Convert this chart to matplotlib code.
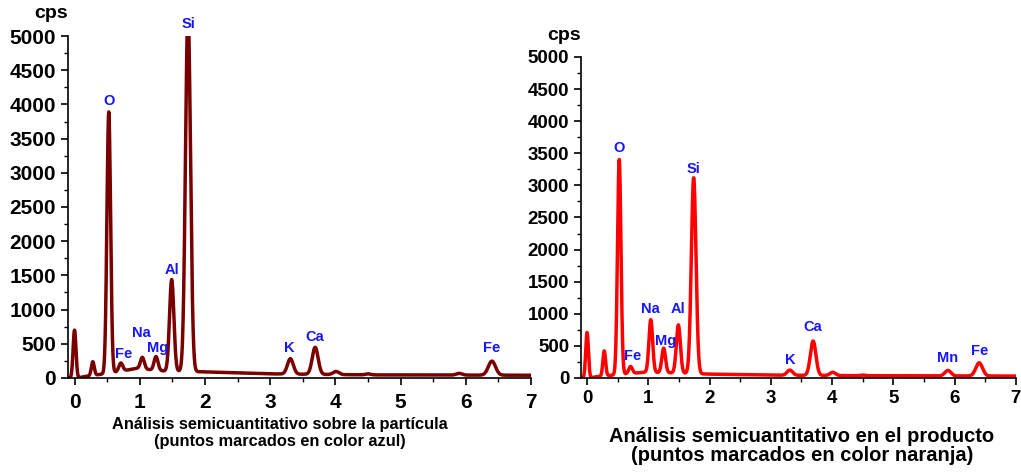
import numpy as np
import matplotlib
matplotlib.use("Agg")
import matplotlib.pyplot as plt
from matplotlib.ticker import MultipleLocator

plt.rcParams["font.family"] = ["Liberation Sans", "DejaVu Sans"]
plt.rcParams["font.weight"] = "bold"

# EDS peaks: energy (keV), height (cps), width (sigma, keV)
left_energy = [0.00, 0.28, 0.525, 0.71, 1.04, 1.25, 1.49, 1.74, 3.31, 3.69, 4.01, 4.50, 5.90, 6.40]
left_height = [700, 200, 3820, 120, 170, 200, 1340, 5300, 225, 395, 45, 15, 25, 205]
left_sigma = [0.022, 0.022, 0.028, 0.030, 0.030, 0.030, 0.033, 0.038, 0.045, 0.045, 0.045, 0.04, 0.045, 0.055]

right_energy = [0.00, 0.28, 0.525, 0.71, 1.04, 1.25, 1.49, 1.74, 3.31, 3.69, 4.01, 4.50, 5.89, 6.40]
right_height = [710, 390, 3350, 110, 820, 380, 750, 3050, 80, 535, 50, 10, 85, 205]
right_sigma = [0.022, 0.022, 0.028, 0.030, 0.030, 0.030, 0.033, 0.038, 0.045, 0.045, 0.045, 0.04, 0.05, 0.055]

# continuum background read at a few energies
bg_energy = [-0.1, 0.05, 0.15, 0.6, 0.95, 1.4, 2.0, 3.0, 4.5, 7.0]
left_bg = [0, 0, 20, 80, 140, 100, 90, 60, 45, 40]
right_bg = [0, 0, 20, 60, 90, 80, 60, 45, 35, 30]

# element labels: text, energy, cps
left_labels = [("O", 0.53, 3950), ("Si", 1.74, 5080), ("Al", 1.49, 1480), ("Na", 1.02, 560),
               ("Mg", 1.27, 340), ("Fe", 0.75, 250), ("K", 3.30, 330), ("Ca", 3.69, 490), ("Fe", 6.40, 330)]
right_labels = [("O", 0.53, 3470), ("Si", 1.74, 3150), ("Na", 1.04, 960), ("Al", 1.49, 960),
                ("Mg", 1.28, 470), ("Fe", 0.75, 240), ("K", 3.32, 170), ("Ca", 3.69, 680),
                ("Mn", 5.89, 200), ("Fe", 6.40, 310)]


def spectrum(energy, height, sigma, bg):
    x = np.linspace(-0.1, 7.0, 3000)
    y = np.interp(x, bg_energy, bg)
    for e, h, s in zip(energy, height, sigma):
        y = y + h * np.exp(-0.5 * ((x - e) / s) ** 2)
    return x, y


def style_axis(ax, fs, pad):
    ax.set_xlim(-0.1, 7.0)
    ax.set_ylim(0, 5000)
    ax.spines["top"].set_visible(False)
    ax.spines["right"].set_visible(False)
    ax.spines["left"].set_linewidth(1.2)
    ax.spines["bottom"].set_linewidth(1.2)
    ax.xaxis.set_major_locator(MultipleLocator(1))
    ax.xaxis.set_minor_locator(MultipleLocator(0.5))
    ax.yaxis.set_major_locator(MultipleLocator(500))
    ax.yaxis.set_minor_locator(MultipleLocator(250))
    ax.tick_params(which="major", direction="out", length=5, width=1.2, labelsize=fs)
    ax.tick_params(axis="x", pad=pad)
    ax.tick_params(which="minor", direction="out", length=3, width=1.0)
    for lab in ax.get_xticklabels() + ax.get_yticklabels():
        lab.set_fontweight("bold")
    ax.text(0.0, 1.04, "cps", transform=ax.transAxes, ha="right", va="bottom",
            fontsize=14, fontweight="bold")


fig = plt.figure(figsize=(10.21, 4.72), dpi=100)

# 1. Left panel: particle
ax1 = fig.add_axes([0.0666, 0.1992, 0.4535, 0.7245])
x, y = spectrum(left_energy, left_height, left_sigma, left_bg)
ax1.plot(x, y, color="#7a0000", lw=2.5)
style_axis(ax1, 15, 6)
for t, e, c in left_labels:
    ax1.text(e, c, t, color="#1515ff", fontsize=10.5, fontweight="bold", ha="center", va="bottom")

# 2. Right panel: product
ax2 = fig.add_axes([0.569, 0.1992, 0.426, 0.6801])
x, y = spectrum(right_energy, right_height, right_sigma, right_bg)
ax2.plot(x, y, color="#ff0000", lw=2.5)
style_axis(ax2, 13.5, 4)
for t, e, c in right_labels:
    ax2.text(e, c, t, color="#1515ff", fontsize=10.5, fontweight="bold", ha="center", va="bottom")

# captions under each panel
fig.text(280 / 1021, 1 - 433 / 472,
         "Análisis semicuantitativo sobre la partícula\n(puntos marcados en color azul)",
         ha="center", va="center", fontsize=11.8, fontweight="bold", linespacing=1.2)
fig.text(802 / 1021, 1 - 446 / 472,
         "Análisis semicuantitativo en el producto\n(puntos marcados en color naranja)",
         ha="center", va="center", fontsize=14.5, fontweight="bold", linespacing=1.0)

fig.savefig("out.png", dpi=100)
plt.close()
